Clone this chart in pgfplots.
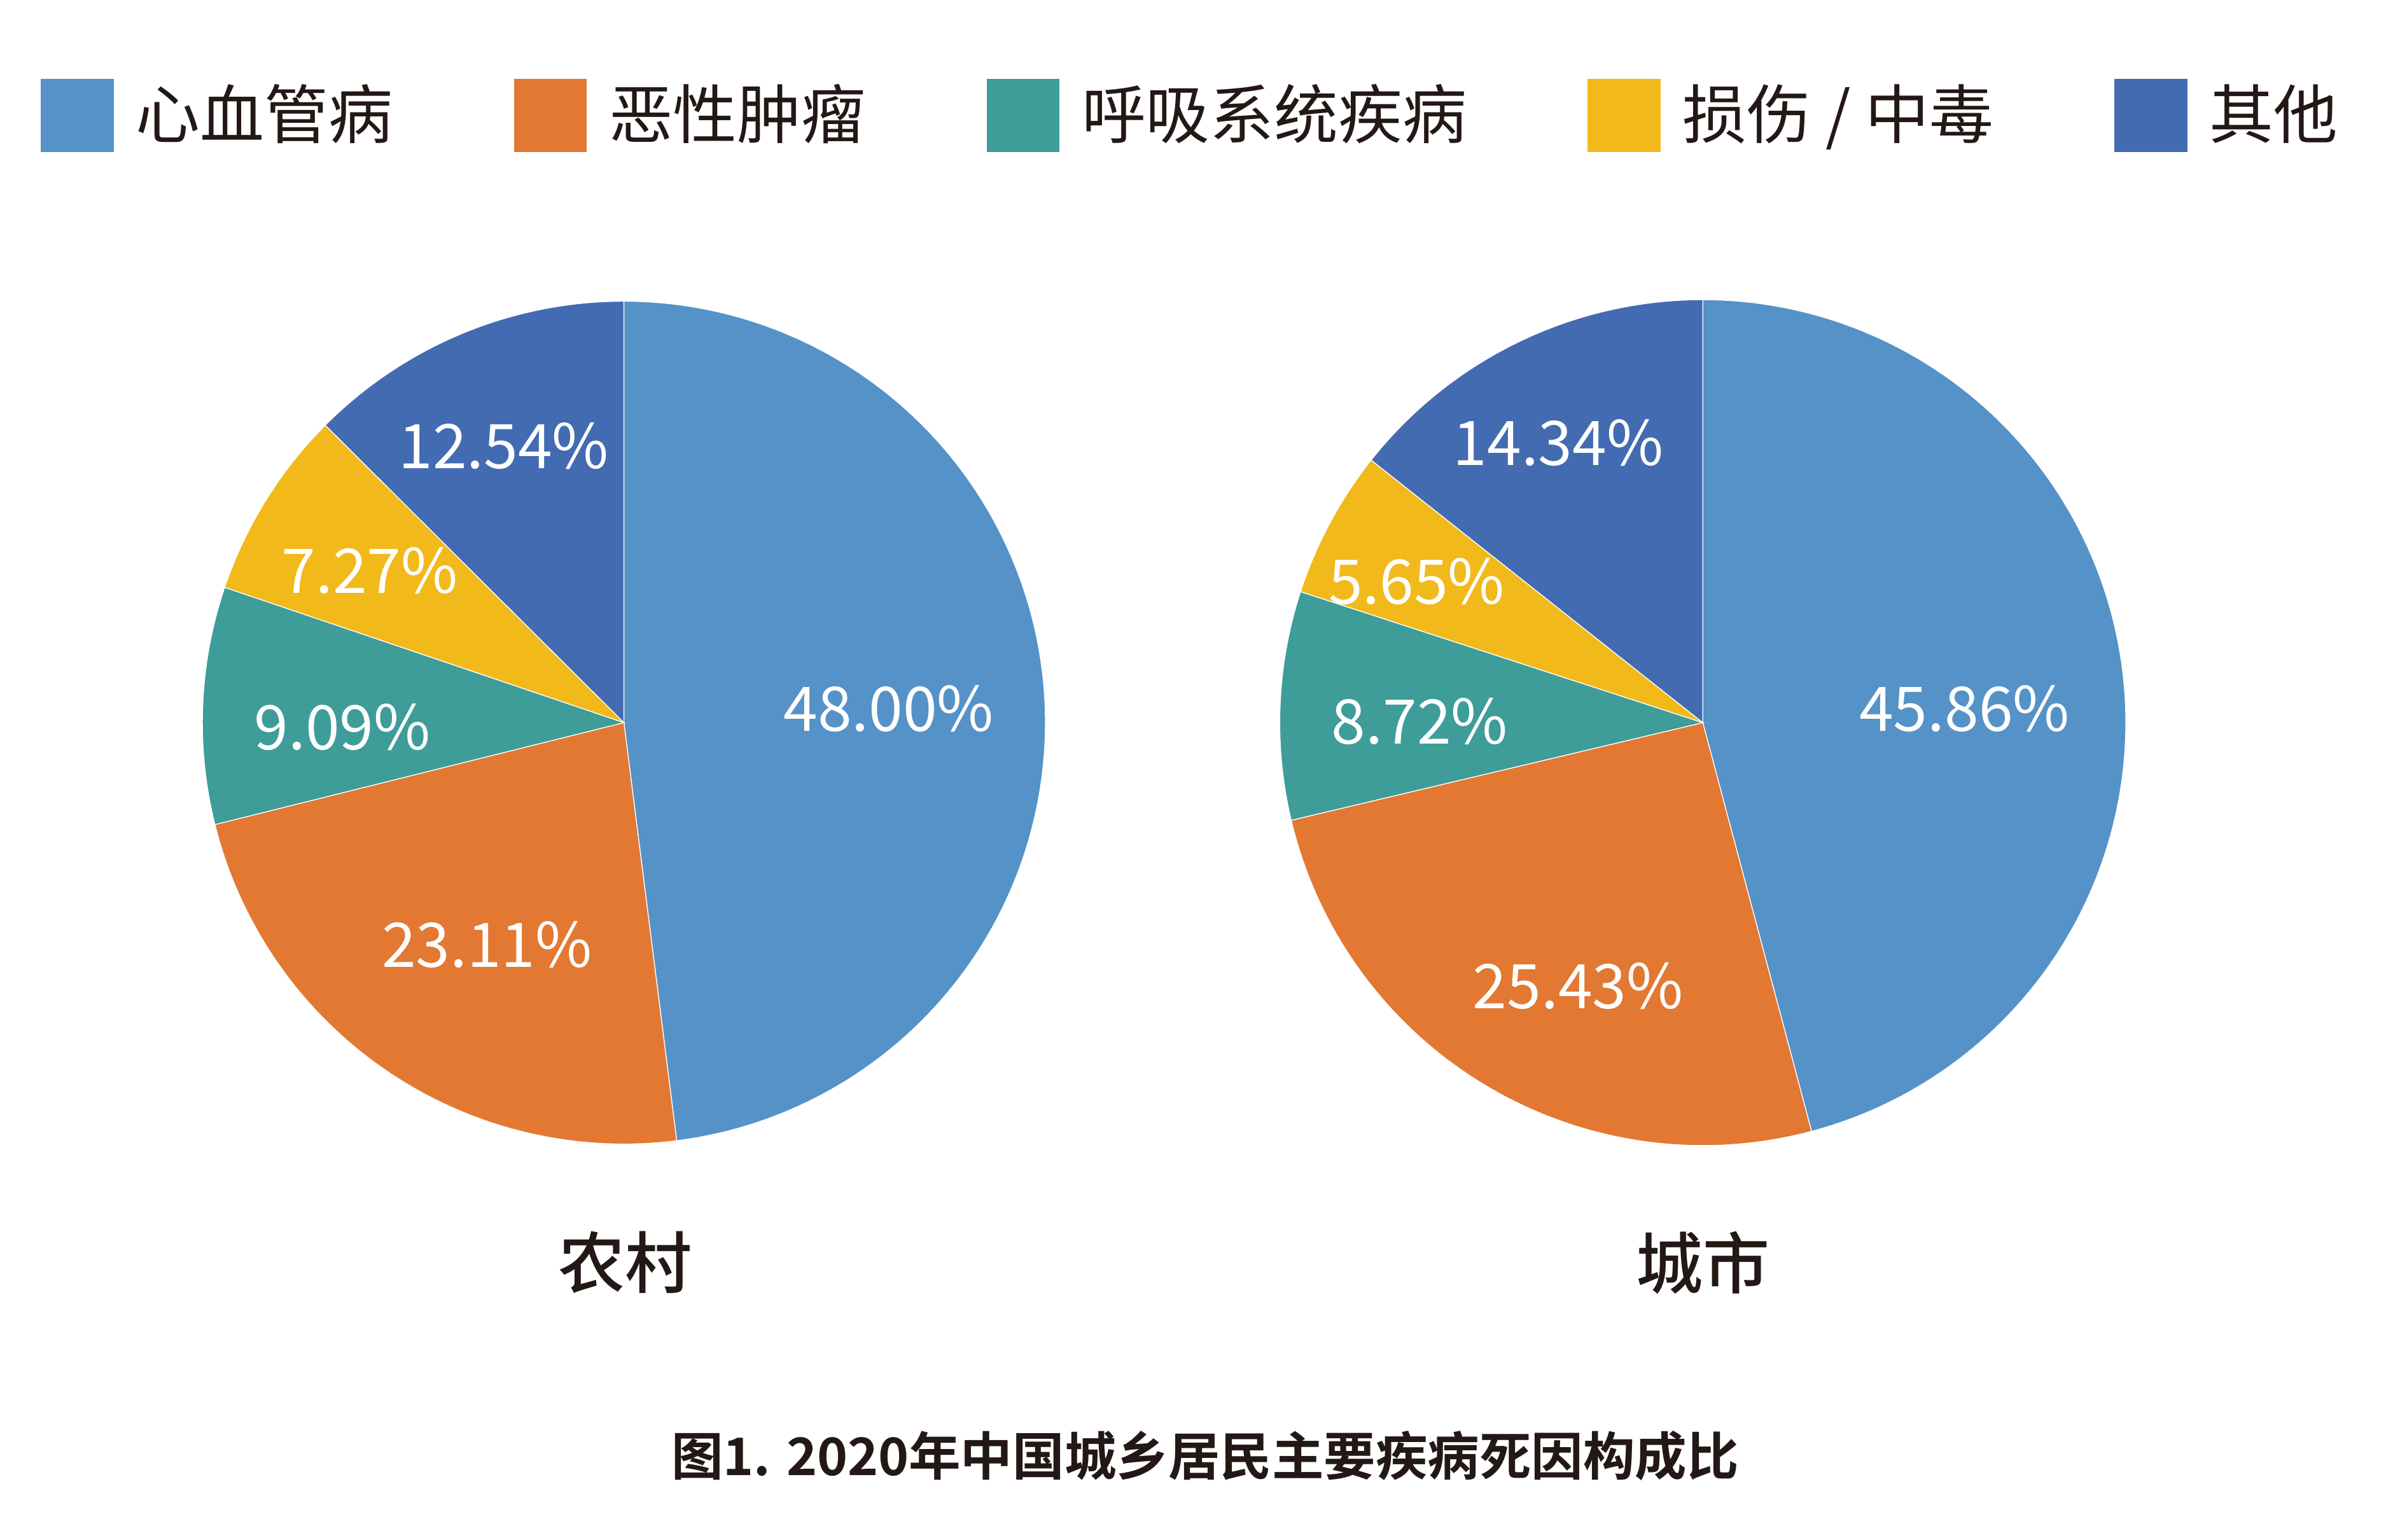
\documentclass[border=0pt]{standalone}
\usepackage{fontspec}
\setmainfont{Noto Sans CJK SC}[BoldFont={Noto Sans CJK SC Bold}]
\newfontfamily\medfont{Noto Sans CJK SC Medium}
\usepackage{pgfplots}
\pgfplotsset{compat=1.18}
\definecolor{cBlue}{HTML}{5592C7}
\definecolor{cOrange}{HTML}{E27832}
\definecolor{cTeal}{HTML}{3E9C99}
\definecolor{cYellow}{HTML}{F2B91B}
\definecolor{cDark}{HTML}{426BB2}
\definecolor{txt}{HTML}{231815}
% data (percent)
\def\rA{48.00}\def\rB{23.11}\def\rC{9.09}\def\rD{7.27}\def\rE{12.54}
\def\uA{45.86}\def\uB{25.43}\def\uC{8.72}\def\uD{5.65}\def\uE{14.34}
\pgfmathsetmacro\raA{90-3.6*\rA}
\pgfmathsetmacro\raB{\raA-3.6*\rB}
\pgfmathsetmacro\raC{\raB-3.6*\rC}
\pgfmathsetmacro\raD{\raC-3.6*\rD}
\pgfmathsetmacro\uaA{90-3.6*\uA}
\pgfmathsetmacro\uaB{\uaA-3.6*\uB}
\pgfmathsetmacro\uaC{\uaB-3.6*\uC}
\pgfmathsetmacro\uaD{\uaC-3.6*\uD}
% slice: [opts]{cx}{cy}{r}{angle lo}{angle hi}{color}
\newcommand\slice[7][]{%
  \addplot[#1, fill=#7, draw=white, line width=0.15pt, domain=#5:#6, samples=120, variable=\t]
    ({#2+#4*cos(\t)},{#3+#4*sin(\t)}) -- (#2,#3) -- cycle;}
\begin{document}
\begin{tikzpicture}
\begin{axis}[
  width=156.8mm, height=101.2mm, scale only axis,
  xmin=0, xmax=1568, ymin=0, ymax=1012,
  hide axis, clip=false,
  legend image code/.code={\fill[#1,draw=none] (0mm,-2.4mm) rectangle (4.8mm,2.4mm);},
  legend columns=5,
  legend style={at={(0.0172,0.925)}, anchor=west, draw=none, fill=none,
    inner sep=0pt, outer sep=0pt, text=txt,
    font=\fontsize{12}{14}\selectfont,
    nodes={inner sep=0pt},
    /tikz/every odd column/.append style={column sep=1.45mm},
    /tikz/every even column/.append style={column sep=7.95mm}},
]
\path (axis cs:0,0) rectangle (axis cs:1568,1012);
% rural
\slice{410}{537}{277}{\raA}{90}{cBlue}
\addlegendentry{心血管病}
\slice{410}{537}{277}{\raB}{\raA}{cOrange}
\addlegendentry{恶性肿瘤}
\slice{410}{537}{277}{\raC}{\raB}{cTeal}
\addlegendentry{呼吸系统疾病}
\slice{410}{537}{277}{\raD}{\raC}{cYellow}
\addlegendentry{损伤 / 中毒}
\slice{410}{537}{277}{-270}{\raD}{cDark}
\addlegendentry{其他}
% urban
\slice[forget plot]{1119}{537}{278}{\uaA}{90}{cBlue}
\slice[forget plot]{1119}{537}{278}{\uaB}{\uaA}{cOrange}
\slice[forget plot]{1119}{537}{278}{\uaC}{\uaB}{cTeal}
\slice[forget plot]{1119}{537}{278}{\uaD}{\uaC}{cYellow}
\slice[forget plot]{1119}{537}{278}{-270}{\uaD}{cDark}
% value labels
\begin{scope}[every node/.style={text=white, font=\fontsize{11.5}{14}\selectfont, inner sep=0pt}]
\node at (axis cs:584,546) {\rA\%};
\node at (axis cs:320,391) {\rB\%};
\node at (axis cs:225,534) {\rC\%};
\node at (axis cs:243,637) {\rD\%};
\node at (axis cs:331,719) {\rE\%};
\node at (axis cs:1291,546) {\uA\%};
\node at (axis cs:1037,364) {\uB\%};
\node at (axis cs:933,538) {\uC\%};
\node at (axis cs:931,630) {\uD\%};
\node at (axis cs:1024,721) {\uE\%};
\end{scope}
% titles
\node[text=txt, font=\medfont\fontsize{12.5}{14}\selectfont, inner sep=0pt] at (axis cs:411,182) {农村};
\node[text=txt, font=\medfont\fontsize{12.5}{14}\selectfont, inner sep=0pt] at (axis cs:1119,182) {城市};
\node[text=txt, font=\bfseries\fontsize{9.7}{12}\selectfont, inner sep=0pt] at (axis cs:792,55) {图1. 2020年中国城乡居民主要疾病死因构成比};
\end{axis}
\end{tikzpicture}
\end{document}
